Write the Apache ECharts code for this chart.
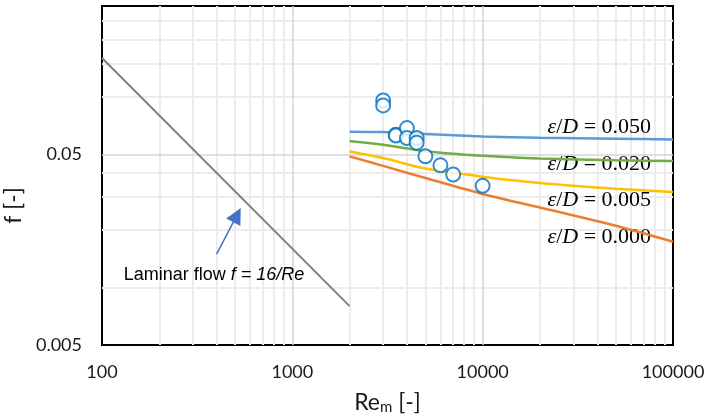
<!DOCTYPE html>
<html><head><meta charset="utf-8">
<script src="https://cdn.jsdelivr.net/npm/echarts@6/dist/echarts.min.js"></script>
<style>html,body{margin:0;padding:0;background:#fff}#c{width:705px;height:419px}</style>
</head><body><div id="c"></div>
<script>
// axis ranges & ticks
const xRange = [100, 100000];
const yRange = [0.005, 0.3];
const yTickLabels = [0.005, 0.05];
const xMajorGrid = [1000, 10000];
const yMajorGrid = [0.05];
const xMinorGrid = [200,300,400,500,600,700,800,900,2000,3000,4000,5000,6000,7000,8000,9000,20000,30000,40000,50000,60000,70000,80000,90000];
const yMinorGrid = [0.01,0.015,0.02,0.025,0.03,0.035,0.04,0.045,0.1,0.15,0.2,0.25];

// laminar line
const reLaminar = [100, 2000];
const fLaminar = [0.16, 0.008];

// turbulent curves
const reCurve = [2000, 3000, 5000, 10000, 20000, 50000, 100000];
const f050 = [0.0657, 0.0654, 0.0640, 0.0620, 0.0611, 0.0604, 0.0599];
const f020 = [0.0587, 0.0561, 0.0519, 0.0491, 0.0475, 0.0465, 0.0461];
const f005 = [0.0517, 0.0478, 0.0421, 0.0382, 0.0354, 0.0330, 0.0317];
const f000 = [0.0488, 0.0435, 0.0376, 0.0310, 0.0263, 0.0211, 0.0174];
const curveNames = ['0.050', '0.020', '0.005', '0.000'];

// experimental points
const reExp = [3000, 3000, 3500, 3500, 4000, 4000, 4500, 4500, 5000, 6000, 7000, 10000];
const fExp  = [0.0959, 0.0903, 0.0634, 0.0627, 0.0687, 0.0609, 0.0609, 0.0576, 0.0488, 0.0438, 0.0392, 0.0342];

// annotation anchors (data coordinates)
const curveLabelRe = 41000;
const curveLabelF = [0.0692, 0.0443, 0.0287, 0.0183];
const laminarTextAt = [388, 0.0117];
const arrowFrom = [400, 0.015];
const arrowTo = [512, 0.0240];

const zip = (a, b) => a.map((v, i) => [v, b[i]]);
const sans = 'Lato';
const serif = 'Liberation Serif';

function gridSeries(xs, ys, color, width, z) {
  return {
    type: 'line', data: [], z: z, silent: true, animation: false,
    markLine: {
      silent: true, animation: false, symbol: ['none', 'none'],
      label: {show: false},
      lineStyle: {color: color, width: width, type: 'solid'},
      data: xs.map(v => ({xAxis: v})).concat(ys.map(v => ({yAxis: v})))
    }
  };
}

function curve(fs, color, idx) {
  return {
    type: 'line', data: zip(reCurve, fs), smooth: 0.25, showSymbol: false, z: 5,
    lineStyle: {color: color, width: 2.5}, itemStyle: {color: color}, animation: false,
    markPoint: {
      symbol: 'circle', symbolSize: 0, animation: false,
      data: [{coord: [curveLabelRe, curveLabelF[idx]]}],
      label: {
        show: true, position: 'inside',
        formatter: '{i|ε}{n|/}{i|D}{n| = ' + curveNames[idx] + '}',
        rich: {
          i: {fontFamily: serif, fontStyle: 'italic', fontSize: 22, color: '#000'},
          n: {fontFamily: serif, fontSize: 22, color: '#000'}
        }
      }
    }
  };
}

const chart = echarts.init(document.getElementById('c'), null, {renderer: 'canvas'});
chart.setOption({
  animation: false,
  grid: {left: 102, top: 6, right: 32, bottom: 74, outerBoundsMode: 'none', containLabel: false,
         show: true, borderColor: '#000', borderWidth: 2, backgroundColor: 'transparent'},
  xAxis: {
    type: 'log', logBase: 10, min: xRange[0], max: xRange[1],
    axisLine: {show: false}, axisTick: {show: false}, splitLine: {show: false},
    axisLabel: {fontFamily: sans, fontSize: 18, color: '#1a1a1a', margin: 18, formatter: v => String(Math.round(v))},
    name: '{a|Re}{s|m}{a| [-]}', nameLocation: 'middle', nameGap: 45,
    nameTextStyle: {rich: {a: {fontFamily: sans, fontSize: 23, color: '#1a1a1a'}, s: {fontFamily: sans, fontSize: 15, color: '#1a1a1a', padding: [10, 0, 0, 0]}}}
  },
  yAxis: {
    type: 'log', logBase: 10, min: yRange[0], max: yRange[1],
    axisLine: {show: false}, axisTick: {show: false}, splitLine: {show: false},
    axisLabel: {customValues: yTickLabels, fontFamily: sans, fontSize: 18, color: '#1a1a1a', margin: 20, formatter: v => String(+(+v).toPrecision(3))},
    name: 'f [-]', nameLocation: 'middle', nameGap: 70, nameRotate: 90,
    nameTextStyle: {fontFamily: sans, fontSize: 23, color: '#1a1a1a', padding: [0, 60, 0, 0]}
  },
  series: [
    gridSeries(xMinorGrid, yMinorGrid, '#ececec', 2, 1),
    gridSeries(xMajorGrid, yMajorGrid, '#d6d6d6', 1.5, 2),
    {
      type: 'line', data: zip(reLaminar, fLaminar), showSymbol: false, z: 5, animation: false,
      lineStyle: {color: '#808080', width: 2}, itemStyle: {color: '#808080'},
      markPoint: {
        symbol: 'circle', symbolSize: 0, animation: false,
        data: [{coord: laminarTextAt}],
        label: {
          show: true, position: 'inside',
          formatter: '{n|Laminar flow }{i|f = 16/Re}',
          rich: {
            n: {fontFamily: 'Liberation Sans', fontSize: 18, color: '#000'},
            i: {fontFamily: 'Liberation Sans', fontStyle: 'italic', fontSize: 18, color: '#000'}
          }
        }
      },
      markLine: {
        silent: true, animation: false, symbol: ['none', 'triangle'], symbolSize: 16,
        label: {show: false},
        lineStyle: {color: '#4472C4', width: 1.5, type: 'solid'},
        itemStyle: {color: '#4472C4'},
        data: [[{coord: arrowFrom}, {coord: arrowTo}]]
      }
    },
    curve(f050, '#5B9BD5', 0),
    curve(f020, '#70AD47', 1),
    curve(f005, '#FFC000', 2),
    curve(f000, '#ED7D31', 3),
    {
      type: 'scatter', data: zip(reExp, fExp), z: 6, animation: false,
      symbol: 'circle', symbolSize: 14,
      itemStyle: {color: '#fff', borderColor: '#0070C0', borderWidth: 2}
    }
  ]
});
</script></body></html>
